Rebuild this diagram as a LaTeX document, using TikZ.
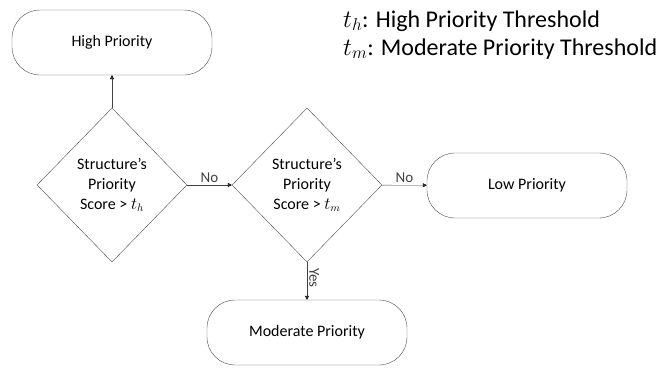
\documentclass[tikz,border=0pt]{standalone}
\usepackage{fontspec}
\setmainfont{Carlito}
\usetikzlibrary{shapes.geometric,arrows.meta}
\tikzset{
  term/.style={rectangle,rounded corners=28pt,draw=black!70,thin,minimum width=200pt,minimum height=65pt,font=\fontsize{16}{20}\selectfont},
  test/.style={diamond,draw=black!70,thin,inner sep=0pt,minimum width=150pt,minimum height=154pt,align=center,font=\fontsize{16}{20}\selectfont},
  flow/.style={-{Triangle[length=4pt,width=4pt,black]},black!75,thin},
  lbl/.style={font=\fontsize{15}{18}\selectfont,inner sep=2pt}
}
\begin{document}
\begin{tikzpicture}[x=1pt,y=-1pt]
\useasboundingbox (0,0) rectangle (664,368);
\node[term] (high) at (112,42.5) {High Priority};
\node[test] (th) at (112,185) {Structure's\\Priority\\Score > $t_h$};
\node[test] (tm) at (307,185) {Structure's\\Priority\\Score > $t_m$};
\node[term] (low) at (527,185.5) {Low Priority};
\node[term] (mod) at (307,332.5) {Moderate Priority};
% legend
\node[anchor=base west,inner sep=0pt,font=\fontsize{24}{28}\selectfont] (leg1) at (343,27) {$t_h$: High Priority Threshold};
\node[anchor=base west,inner sep=0pt,font=\fontsize{24}{28}\selectfont] (leg2) at (343,55) {$t_m$: Moderate Priority Threshold};
\path[]
    (th) [flow,black!40] edge (high)
    (th) [flow] edge node[lbl,above] {No} (tm)
    (tm) [flow] edge node[lbl,above] {No} (low)
    (tm) [flow] edge node[lbl,anchor=south,rotate=-90,pos=0.42] {Yes} (mod);
\end{tikzpicture}
\end{document}
